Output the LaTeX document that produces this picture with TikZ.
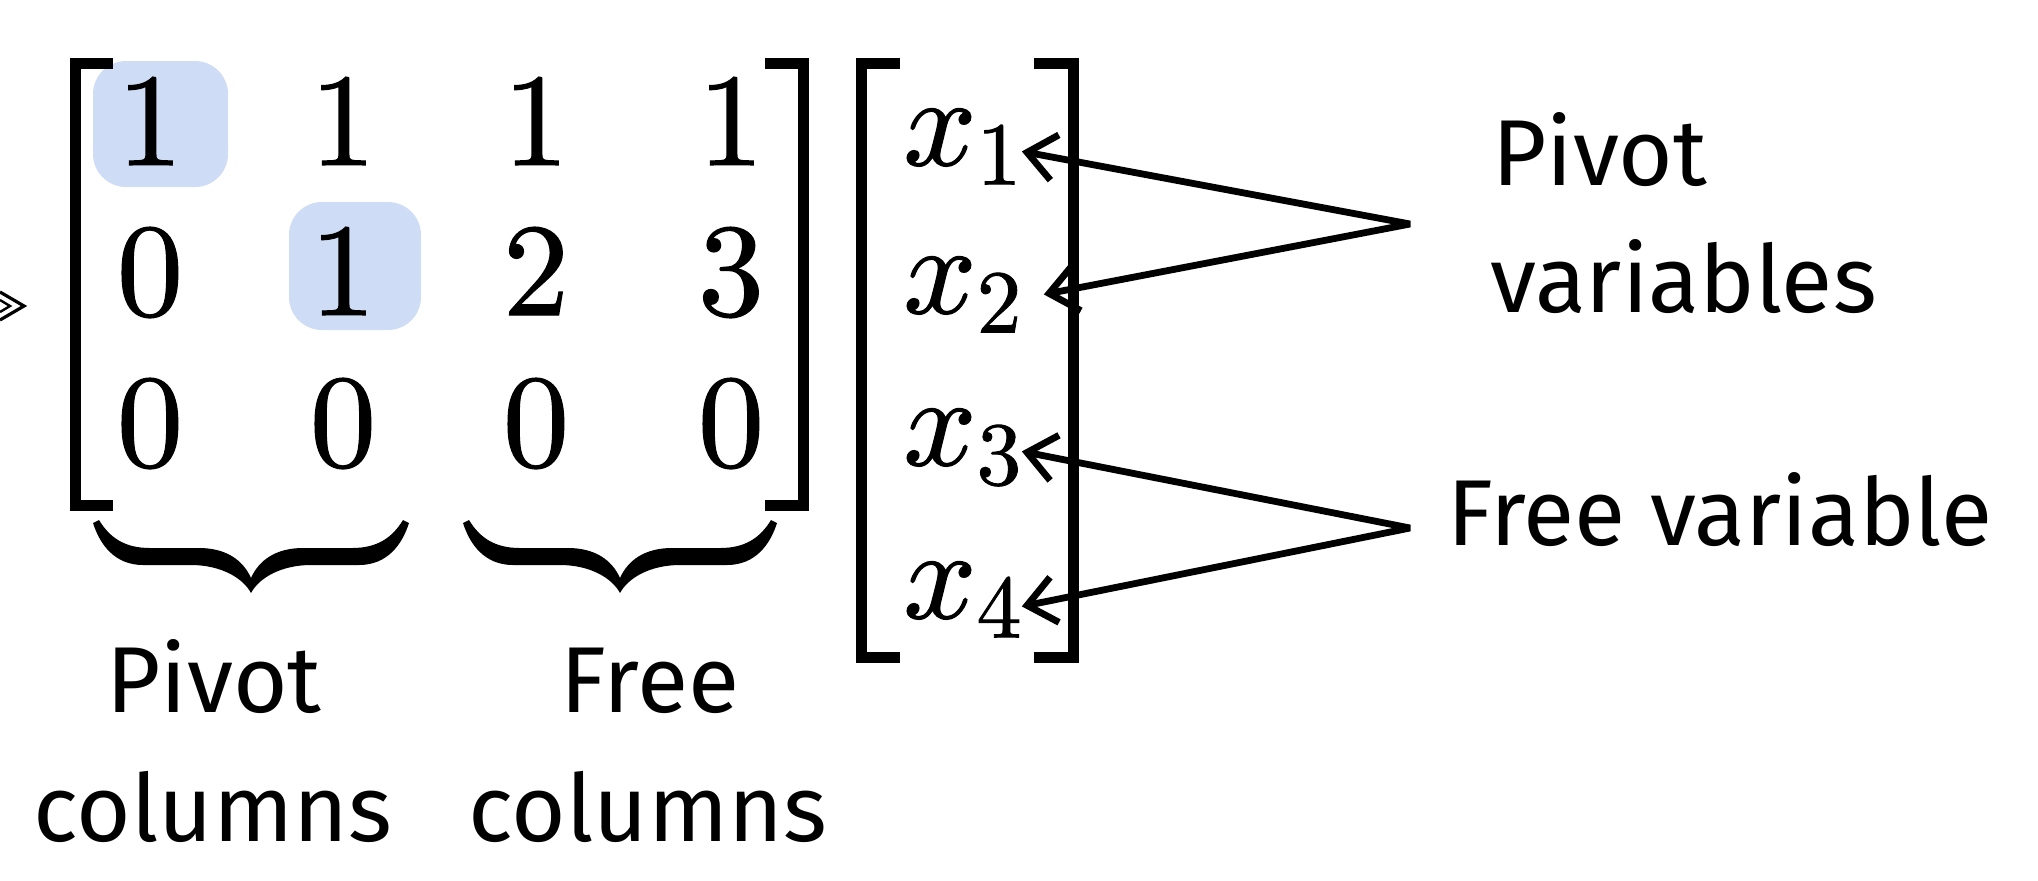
\documentclass[tikz,border=0pt]{standalone}
\usepackage[no-math]{fontspec}
\newfontfamily\sk{Fira Sans}
\newfontfamily\lmd[FakeBold=1]{lmroman10-regular.otf}
\newfontfamily\lmm[FakeBold=1]{latinmodern-math.otf}
\newcommand\subdig[1]{\raisebox{-9.7pt}{\fontsize{44.8}{50}\selectfont #1}}
\usetikzlibrary{arrows.meta}
\definecolor{hl}{RGB}{206,220,245}
\newcommand\mybrace[2]{%
  \pgfmathsetmacro\xm{(#1+#2)/2}%
  \fill ({#1},523) .. controls ({#1+7},545) and ({#1+22},565) .. ({#1+50},565)
    -- ({\xm-60},565) .. controls ({\xm-30},565) and ({\xm-8},578) .. (\xm,593)
    .. controls ({\xm+8},578) and ({\xm+30},565) .. ({\xm+60},565)
    -- ({#2-50},565) .. controls ({#2-22},565) and ({#2-7},545) .. ({#2},523)
    -- ({#2-6},520) .. controls ({#2-17},538) and ({#2-32},548) .. ({#2-57},548)
    -- ({\xm+52},548) .. controls ({\xm+25},548) and ({\xm+8},560) .. (\xm,578)
    .. controls ({\xm-8},560) and ({\xm-25},548) .. ({\xm-52},548)
    -- ({#1+57},548) .. controls ({#1+32},548) and ({#1+17},538) .. ({#1+6},520)
    -- cycle;}
\begin{document}
\begin{tikzpicture}[x=0.5pt,y=-0.5pt,
  entry/.style={anchor=base,inner sep=0pt,font=\lmd\fontsize{66}{80}\selectfont},
  vec/.style={anchor=base west,inner sep=0pt,font=\lmm\fontsize{64}{77}\selectfont},
  lbl/.style={inner sep=0pt,font=\sk\fontsize{46.8}{60}\selectfont},
  brk/.style={line width=5.5pt,line join=miter,line cap=butt},
  hlbox/.style={fill=hl,rounded corners=16.5pt},
  conn/.style={line width=3.4pt,line join=bevel},
  >={Straight Barb[length=14pt,width=23pt]},
  ]
\useasboundingbox (0,0) rectangle (2038,880);

% partial arrowhead at left edge
\draw[line width=1.6pt,line join=miter] (0,292) -- (24,306) -- (0,320);
\draw[line width=1.2pt,line join=miter] (0,300) -- (10,306) -- (0,312);

% highlights
\fill[hlbox] (93,61) rectangle (228,187);
\fill[hlbox] (289,202) rectangle (421,330);

% matrix entries
\node[entry] (a11) at (150,165) {1};
\node[entry] (a12) at (343,165) {1};
\node[entry] (a13) at (536,165) {1};
\node[entry] (a14) at (731,165) {1};
\node[entry] (a21) at (150,315) {0};
\node[entry] (a22) at (343,315) {1};
\node[entry] (a23) at (536,315) {2};
\node[entry] (a24) at (731,315) {3};
\node[entry] (a31) at (150,466) {0};
\node[entry] (a32) at (343,466) {0};
\node[entry] (a33) at (536,466) {0};
\node[entry] (a34) at (731,466) {0};

% matrix brackets
\draw[brk] (113,63.5) -- (75,63.5) -- (75,505.5) -- (113,505.5);
\draw[brk] (765,63.5) -- (803.5,63.5) -- (803.5,505.5) -- (765,505.5);

% vector brackets
\draw[brk] (900,63.5) -- (861.5,63.5) -- (861.5,657.5) -- (900,657.5);
\draw[brk] (1034,63.5) -- (1073,63.5) -- (1073,657.5) -- (1034,657.5);

% vector entries
\node[vec] (x1) at (903,165) {𝑥\subdig{1}};
\node[vec] (x2) at (903,313) {𝑥\subdig{2}};
\node[vec] (x3) at (903,465) {𝑥\subdig{3}};
\node[vec] (x4) at (903,618) {𝑥\subdig{4}};

% braces
\mybrace{93}{409}
\mybrace{463}{777}

% column labels
\node[lbl,anchor=base] (pc1) at (214,712) {Pivot};
\node[lbl,anchor=base] (pc2) at (213,841) {columns};
\node[lbl,anchor=base] (fc1) at (650,712) {Free};
\node[lbl,anchor=base] (fc2) at (648,841) {columns};

% variable labels
\node[lbl,anchor=base west] (pv1) at (1492,185) {Pivot};
\node[lbl,anchor=base west] (pv2) at (1490,312) {variables};
\node[lbl,anchor=base west] (fv1) at (1447,545) {Free variable};

% connectors
\coordinate (pv) at (1410,224);
\coordinate (fv) at (1410,528);
\draw[conn,<->] ([yshift=-2.5pt]x1.east) -- (pv) -- ([xshift=11pt]x2.east);
\draw[conn,<->] ([yshift=-2pt]x3.east) -- (fv) -- ([yshift=-3.5pt]x4.east);
\end{tikzpicture}
\end{document}
